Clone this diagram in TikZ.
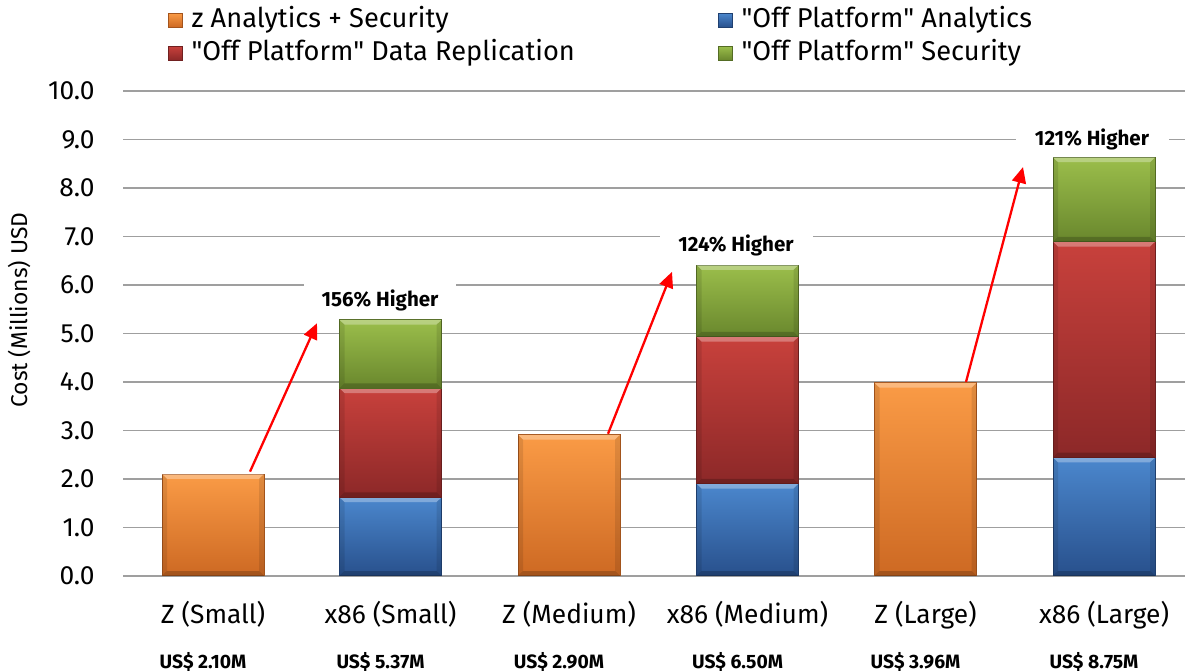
\documentclass[tikz,border=0pt]{standalone}
\usepackage{fontspec}
\setmainfont{Fira Sans}
\usetikzlibrary{positioning,arrows.meta}

\definecolor{zTop}{RGB}{250,155,70}
\definecolor{zBot}{RGB}{205,105,35}
\definecolor{aTop}{RGB}{75,135,205}
\definecolor{aBot}{RGB}{40,80,140}
\definecolor{rTop}{RGB}{200,65,60}
\definecolor{rBot}{RGB}{140,40,40}
\definecolor{gTop}{RGB}{155,190,75}
\definecolor{gBot}{RGB}{105,135,45}

% one bar segment: centre x, from, to, style
\newcommand{\barseg}[4]{%
  \shade[#4] ({#1-51},#2) rectangle ({#1+51},#3);
  \fill[white, opacity=0.3] ({#1-51},#3) -- ({#1+51},#3) -- ({#1+46},{#3-0.1}) -- ({#1-46},{#3-0.1}) -- cycle;
  \fill[black, opacity=0.2] ({#1-51},#2) -- ({#1+51},#2) -- ({#1+46},{#2+0.1}) -- ({#1-46},{#2+0.1}) -- cycle;
  \fill[black, opacity=0.1] ({#1-51},#2) -- ({#1-51},#3) -- ({#1-46},{#3-0.1}) -- ({#1-46},{#2+0.1}) -- cycle;
  \fill[black, opacity=0.1] ({#1+51},#2) -- ({#1+51},#3) -- ({#1+46},{#3-0.1}) -- ({#1+46},{#2+0.1}) -- cycle;}

\begin{document}
\begin{tikzpicture}[x=0.02cm, y=0.97cm,
    grid/.style={draw=gray!75, line width=0.9pt},
    tick/.style={anchor=east, font=\fontsize{15}{17}\selectfont, inner sep=0pt},
    cat/.style={font=\fontsize{15}{17}\selectfont},
    price/.style={font=\bfseries\fontsize{11}{13}\selectfont},
    gain/.style={fill=white, font=\bfseries\fontsize{11.7}{13}\selectfont, minimum width=3.06cm, minimum height=0.66cm},
    rise/.style={draw=red, line width=1.3pt, -{Triangle[length=9pt,width=8pt]}},
    zbar/.style={top color=zTop, bottom color=zBot, draw=zBot!80!black, line width=0.5pt},
    abar/.style={top color=aTop, bottom color=aBot, draw=aBot!80!black, line width=0.5pt},
    rbar/.style={top color=rTop, bottom color=rBot, draw=rBot!80!black, line width=0.5pt},
    gbar/.style={top color=gTop, bottom color=gBot, draw=gBot!80!black, line width=0.5pt},
    legmark/.style={minimum size=0.28cm, inner sep=0pt, line width=0.4pt},
    legtext/.style={anchor=west, font=\fontsize{15.5}{18}\selectfont, inner sep=0pt}
  ]
    \useasboundingbox (0,-1.959) rectangle (1185,11.876);

    % Grid and value axis
    \foreach \v in {0,...,10} {
      \draw[grid] (123,\v) -- (1185,\v);
      \node[tick] at (95,\v) {\v.0};
    }
    \node[rotate=90, font=\fontsize{13}{15}\selectfont] (ytitle) at (20,5.48) {Cost (Millions) USD};

    % Bars
    \barseg{213}{0}{2.10}{zbar}
    \barseg{390.5}{0}{1.62}{abar}
    \barseg{390.5}{1.62}{3.87}{rbar}
    \barseg{390.5}{3.87}{5.28}{gbar}
    \barseg{569}{0}{2.91}{zbar}
    \barseg{747.5}{0}{1.90}{abar}
    \barseg{747.5}{1.90}{4.93}{rbar}
    \barseg{747.5}{4.93}{6.41}{gbar}
    \barseg{925.5}{0}{3.98}{zbar}
    \barseg{1104}{0}{2.44}{abar}
    \barseg{1104}{2.44}{6.89}{rbar}
    \barseg{1104}{6.89}{8.63}{gbar}

    % Increase labels
    \node[gain] (gsmall) at (380,5.69) {156\% Higher};
    \node[gain] (gmedium) at (736,6.82) {124\% Higher};
    \node[gain] (glarge) at (1092,9.0) {121\% Higher};

    % Increase arrows
    \coordinate (zsmall) at (250,2.15);
    \coordinate (zmedium) at (608,2.93);
    \coordinate (zlarge) at (966,4.0);
    \coordinate (tsmall) at (317,5.21);
    \coordinate (tmedium) at (672,6.27);
    \coordinate (tlarge) at (1023,8.43);
    \draw[rise] (zsmall) -- (tsmall);
    \draw[rise] (zmedium) -- (tmedium);
    \draw[rise] (zlarge) -- (tlarge);

    % Categories and totals
    \foreach \x/\c/\p [count=\i] in {213/Z (Small)/2.10, 390.5/x86 (Small)/5.37, 569/Z (Medium)/2.90,
        747.5/x86 (Medium)/6.50, 925.5/Z (Large)/3.96, 1104/x86 (Large)/8.75} {
      \node[cat] (cat\i) at (\x,-0.80) {\c};
      \node[price] (price\i) at (\x-10,-1.77) {US\$ \p M};
    }

    % Legend
    \node[legmark, zbar] (lz) at (175,11.46) {};
    \node[legtext, right=5pt of lz] (tz) {z Analytics + Security};
    \node[legmark, rbar] (lr) at (175,10.78) {};
    \node[legtext, right=5pt of lr] (tr) {\textquotedbl Off Platform\textquotedbl{} Data Replication};
    \node[legmark, abar] (la) at (725,11.46) {};
    \node[legtext, right=5pt of la] (ta) {\textquotedbl Off Platform\textquotedbl{} Analytics};
    \node[legmark, gbar] (lg) at (725,10.78) {};
    \node[legtext, right=5pt of lg] (tg) {\textquotedbl Off Platform\textquotedbl{} Security};
\end{tikzpicture}
\end{document}
